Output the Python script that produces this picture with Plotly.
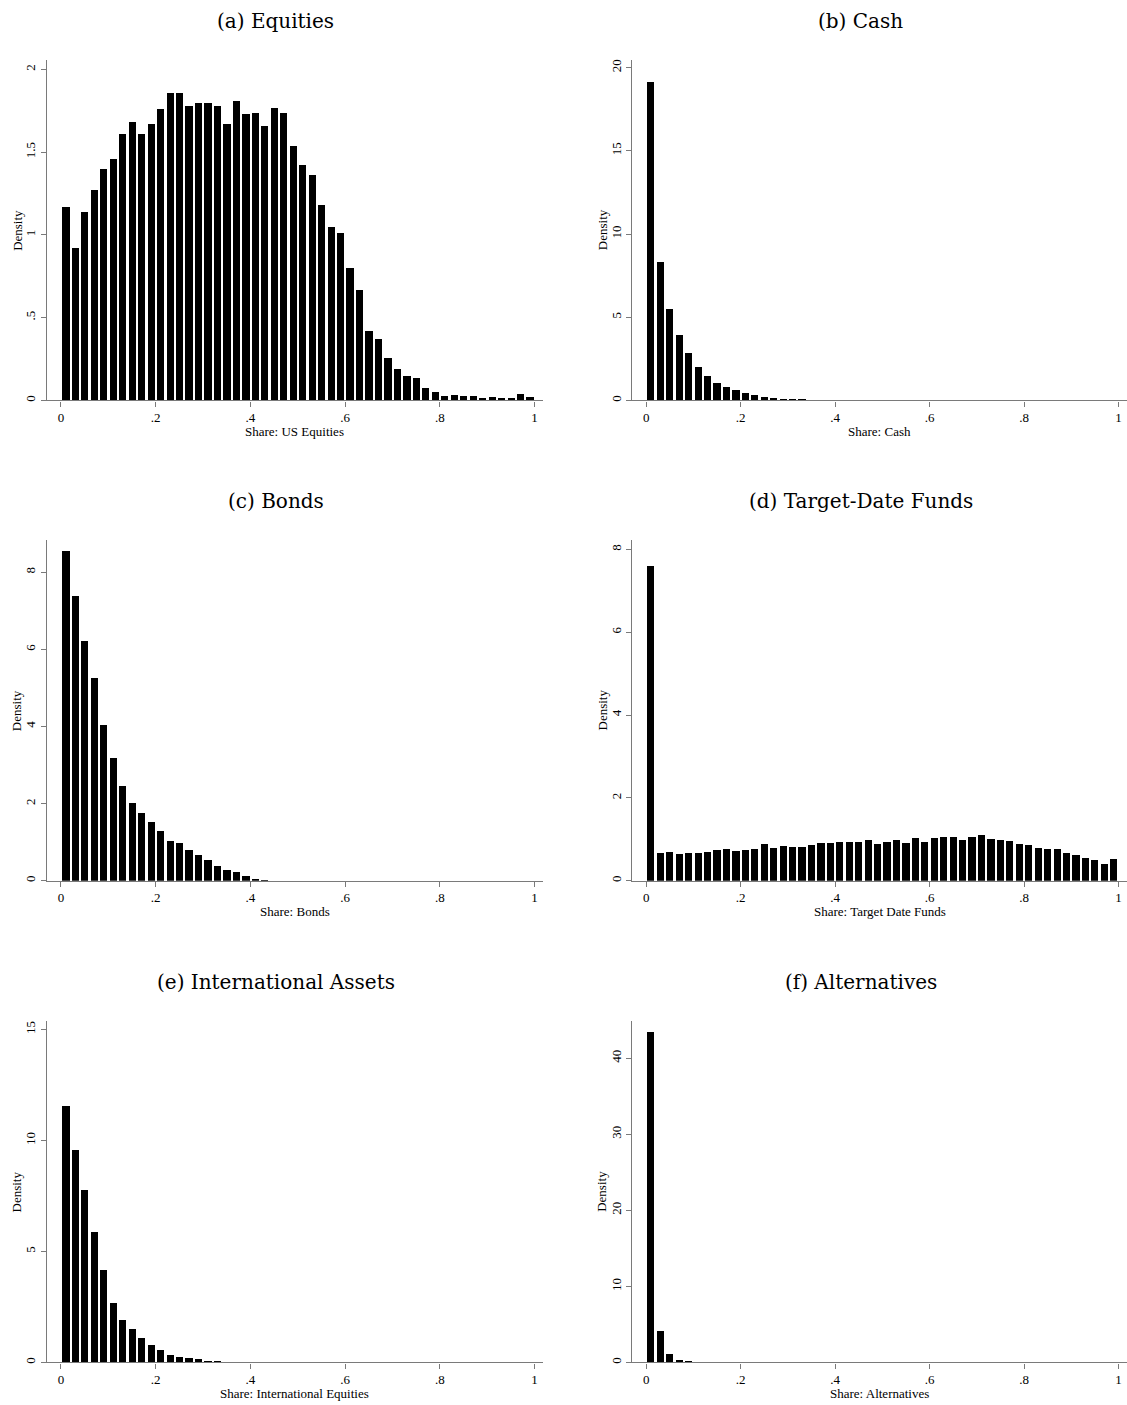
import numpy as np
import plotly.graph_objects as go

# Histogram bins: 50 bins of width 0.02 on [0, 1]
bin_width = 0.02
bin_left = np.round(np.arange(50) * bin_width, 2)

# Density per bin for each asset-class share
equities = [1.17, 0.92, 1.14, 1.27, 1.40, 1.46, 1.61, 1.68, 1.61, 1.67,
            1.76, 1.86, 1.855, 1.78, 1.80, 1.80, 1.78, 1.67, 1.81, 1.73,
            1.735, 1.66, 1.77, 1.735, 1.54, 1.42, 1.36, 1.18, 1.05, 1.01,
            0.80, 0.665, 0.42, 0.374, 0.257, 0.19, 0.147, 0.135, 0.076, 0.05,
            0.026, 0.036, 0.028, 0.026, 0.014, 0.02, 0.016, 0.016, 0.042, 0.02]
cash = [19.16, 8.33, 5.52, 3.93, 2.83, 2.0, 1.46, 1.06, 0.84, 0.64,
        0.44, 0.32, 0.22, 0.16, 0.12, 0.08, 0.05, 0.03, 0.02, 0.01]
bonds = [8.55, 7.38, 6.20, 5.24, 4.03, 3.18, 2.46, 2.01, 1.75, 1.51,
         1.29, 1.03, 0.97, 0.785, 0.65, 0.52, 0.37, 0.285, 0.216, 0.13,
         0.035, 0.01]
target_date = [7.59, 0.667, 0.70, 0.65, 0.675, 0.667, 0.69, 0.73, 0.76, 0.707,
               0.747, 0.77, 0.88, 0.78, 0.827, 0.81, 0.81, 0.867, 0.90, 0.916,
               0.93, 0.93, 0.924, 0.98, 0.875, 0.924, 0.98, 0.90, 1.02, 0.924,
               1.02, 1.06, 1.044, 0.98, 1.06, 1.09, 1.00, 0.99, 0.95, 0.875,
               0.85, 0.79, 0.76, 0.76, 0.66, 0.61, 0.55, 0.49, 0.41, 0.52]
international = [11.52, 9.57, 7.76, 5.88, 4.16, 2.67, 1.90, 1.47, 1.10, 0.77,
                 0.54, 0.33, 0.225, 0.165, 0.12, 0.02, 0.01]
alternatives = [43.4, 4.03, 1.05, 0.30, 0.05]

x_ticks = [0, 0.2, 0.4, 0.6, 0.8, 1]
x_tick_labels = ["0", ".2", ".4", ".6", ".8", "1"]

panels = [
    dict(title="(a) Equities", xlabel="Share: US Equities", values=equities,
         yticks=[0, 0.5, 1, 1.5, 2], ylabels=["0", ".5", "1", "1.5", "2"], ymax=2.057),
    dict(title="(b) Cash", xlabel="Share: Cash", values=cash,
         yticks=[0, 5, 10, 15, 20], ylabels=["0", "5", "10", "15", "20"], ymax=20.46),
    dict(title="(c) Bonds", xlabel="Share: Bonds", values=bonds,
         yticks=[0, 2, 4, 6, 8], ylabels=["0", "2", "4", "6", "8"], ymax=8.83),
    dict(title="(d) Target-Date Funds", xlabel="Share: Target Date Funds", values=target_date,
         yticks=[0, 2, 4, 6, 8], ylabels=["0", "2", "4", "6", "8"], ymax=8.22),
    dict(title="(e) International Assets", xlabel="Share: International Equities", values=international,
         yticks=[0, 5, 10, 15], ylabels=["0", "5", "10", "15"], ymax=15.37),
    dict(title="(f) Alternatives", xlabel="Share: Alternatives", values=alternatives,
         yticks=[0, 10, 20, 30, 40], ylabels=["0", "10", "20", "30", "40"], ymax=44.86),
]

W, H = 1127, 1405
def fx(p):
    return p / W
def fy(p):
    return 1 - p / H

col_px = [(46.7, 543.0), (632.0, 1127.0)]
row_px = [(59.0, 400.0), (540.0, 881.0), (1021.7, 1363.3)]

AXIS_GRAY = "#7a7a7a"
TICK_FONT = dict(family="Liberation Serif", size=13, color="black")
TITLE_FONT = dict(family="DejaVu Serif", size=20, color="black")

fig = go.Figure()
annotations = []

for i, p in enumerate(panels):
    r, c = divmod(i, 2)
    x0, x1 = col_px[c]
    y0, y1 = row_px[r]
    n = i + 1
    xa = "x" if n == 1 else f"x{n}"
    ya = "y" if n == 1 else f"y{n}"
    vals = p["values"]
    fig.add_trace(go.Bar(
        x=bin_left[:len(vals)] + bin_width / 2, y=vals, width=0.0152,
        marker=dict(color="black", line=dict(width=0)),
        xaxis=xa, yaxis=ya, showlegend=False, hoverinfo="x+y",
    ))
    common = dict(showline=True, linecolor=AXIS_GRAY, linewidth=1.3,
                  ticks="outside", ticklen=5, tickwidth=1.2, tickcolor=AXIS_GRAY,
                  showgrid=False, zeroline=False, tickfont=TICK_FONT)
    fig.update_layout(**{
        ("xaxis" if n == 1 else f"xaxis{n}"): dict(
            domain=[fx(x0), fx(x1)], range=[-0.03, 1.018], anchor=ya,
            tickvals=x_ticks, ticktext=x_tick_labels, **common),
        ("yaxis" if n == 1 else f"yaxis{n}"): dict(
            domain=[fy(y1), fy(y0)], range=[0, p["ymax"]], anchor=xa,
            tickvals=p["yticks"], ticktext=p["ylabels"], tickangle=-90, **common),
    })
    # panel title
    annotations.append(dict(text=p["title"], xref="paper", yref="paper",
                            x=fx(x0 + 228.8), y=fy(y0 - 39), showarrow=False,
                            xanchor="center", yanchor="middle", font=TITLE_FONT))
    # y-axis title
    annotations.append(dict(text="Density", xref="paper", yref="paper",
                            x=fx(x0 - 30), y=fy((y0 + y1) / 2), showarrow=False,
                            textangle=-90, xanchor="center", yanchor="middle",
                            font=TICK_FONT))
    # x-axis title
    annotations.append(dict(text=p["xlabel"], xref="paper", yref="paper",
                            x=fx((x0 + x1) / 2), y=fy(y1 + 31), showarrow=False,
                            xanchor="center", yanchor="middle", font=TICK_FONT))

fig.update_layout(width=W, height=H, margin=dict(l=0, r=0, t=0, b=0),
                  paper_bgcolor="white", plot_bgcolor="white",
                  annotations=annotations, bargap=0)

fig.write_html("out.html")
